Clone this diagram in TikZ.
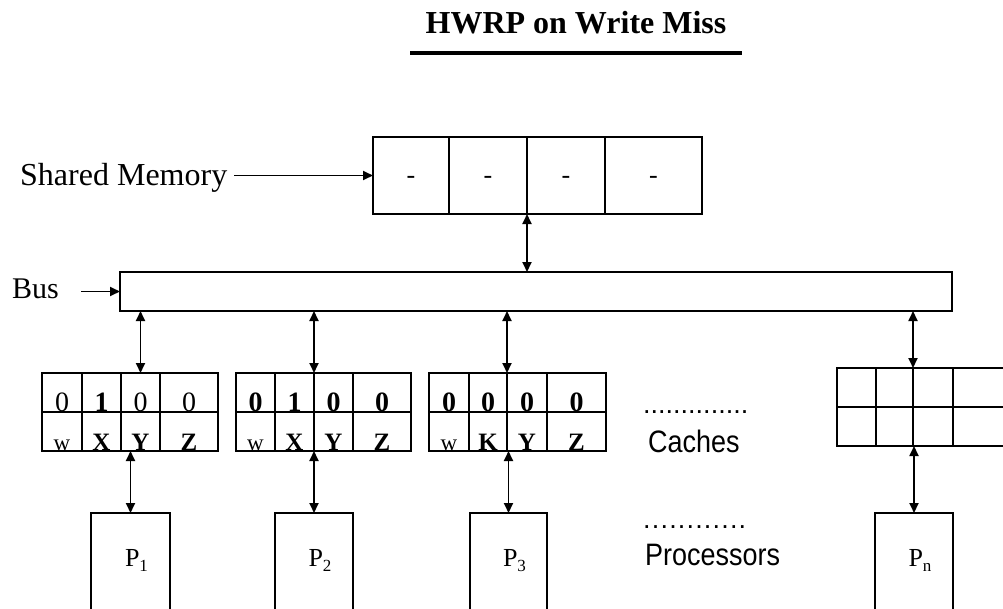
\documentclass[tikz,border=0pt]{standalone}
\usepackage{graphicx}
\usepackage{fontspec}
\setmainfont{Liberation Serif}
\newfontfamily\sansf{Liberation Sans}
\usetikzlibrary{arrows.meta}
\newcommand\fs[1]{\fontsize{#1}{#1}\selectfont}
\newcommand\psub[1]{\raisebox{-5pt}{\fs{17}#1}}
\newcommand\dg{\fs{28}}
\newcommand\lt{\fs{25}}
\newcommand\dsh{\raisebox{-8pt}[0pt][0pt]{-}}
% cache id, column, x-left, width, y-top, row height, top text, bottom text
\newcommand\cachecol[8]{%
  \node[cellbox, minimum width=#4pt, minimum height=#6pt] (c#1#2t) at (#3,#5) {};
  \node[cellbox, minimum width=#4pt, minimum height=#6pt] (c#1#2b) at (#3,#5+#6) {};
  \node[celltext] (t#1#2t) at ([yshift=0.5pt]c#1#2t.south) {#7};
  \node[celltext] (t#1#2b) at ([yshift=0.5pt]c#1#2b.south) {#8};
}
\begin{document}
\begin{tikzpicture}[x=1pt,y=-1pt,
  lw/.style={line width=1.8pt},
  cellbox/.style={draw, lw, inner sep=0pt, outer sep=0pt, anchor=north west},
  celltext/.style={inner sep=0pt, anchor=base},
  conn/.style={lw, {Triangle[length=10pt,width=9pt]}-{Triangle[length=10pt,width=9pt]}},
  pointer/.style={lw, -{Triangle[length=10pt,width=9pt]}},
  lbl/.style={inner sep=0pt, anchor=base west},
  sanslbl/.style={inner sep=0pt, anchor=base west, font=\sansf\fs{31}},
  dots/.style={inner sep=0pt, anchor=base west, font=\sansf\fs{27}},
  proc/.style={draw, lw, inner sep=0pt, outer sep=0pt, anchor=north west, minimum height=140pt},
  plabel/.style={inner sep=0pt, anchor=base, font=\fs{26}}
]
\useasboundingbox (0,0) rectangle (1003,608);
\fill[white] (0,0) rectangle (1003,608);

% title
\node[inner sep=0pt, anchor=base, font=\bfseries\fs{32}] (title) at (576,33) {HWRP on Write Miss};
\draw[line width=4pt] ([xshift=-15pt,yshift=-20pt]title.base west) -- ([xshift=15pt,yshift=-20pt]title.base east);

% shared memory
\node[cellbox, minimum width=76pt, minimum height=77pt, font=\fs{26}] (m1) at (373,137) {\dsh};
\node[cellbox, minimum width=78pt, minimum height=77pt, font=\fs{26}] (m2) at (449,137) {\dsh};
\node[cellbox, minimum width=78pt, minimum height=77pt, font=\fs{26}] (m3) at (527,137) {\dsh};
\node[cellbox, minimum width=97pt, minimum height=77pt, font=\fs{26}] (m4) at (605,137) {\dsh};
\node[lbl, font=\fs{32}] (smlabel) at (20,185) {Shared Memory};
\draw[pointer, shorten <=7pt] (smlabel.east |- m1.west) -- (m1.west);

% bus
\node[cellbox, minimum width=832pt, minimum height=39pt] (bus) at (120,272) {};
\node[lbl, font=\fs{30}] (buslabel) at (12,298) {Bus};
\draw[pointer, shorten <=22pt] (buslabel.east |- bus.west) -- (bus.west);
\draw[conn] (m2.south east) -- (bus.north -| m2.south east);

% caches
\cachecol{1}{1}{42}{40}{373}{39}{\dg 0}{\fs{23}w}
\cachecol{1}{2}{82}{39}{373}{39}{\dg\bfseries 1}{\lt\bfseries X}
\cachecol{1}{3}{121}{39}{373}{39}{\dg 0}{\lt\bfseries Y}
\cachecol{1}{4}{160}{58}{373}{39}{\dg 0}{\lt\bfseries Z}

\cachecol{2}{1}{236}{39}{373}{39}{\dg\bfseries 0}{\fs{23}w}
\cachecol{2}{2}{275}{39}{373}{39}{\dg\bfseries 1}{\lt\bfseries X}
\cachecol{2}{3}{314}{39}{373}{39}{\dg\bfseries 0}{\lt\bfseries Y}
\cachecol{2}{4}{353}{58}{373}{39}{\dg\bfseries 0}{\lt\bfseries Z}

\cachecol{3}{1}{429}{40}{373}{39}{\dg\bfseries 0}{\fs{23}w}
\cachecol{3}{2}{469}{38}{373}{39}{\dg\bfseries 0}{\lt\bfseries K}
\cachecol{3}{3}{507}{40}{373}{39}{\dg\bfseries 0}{\lt\bfseries Y}
\cachecol{3}{4}{547}{59}{373}{39}{\dg\bfseries 0}{\lt\bfseries Z}

\cachecol{n}{1}{837}{39}{368}{39}{}{}
\cachecol{n}{2}{876}{37}{368}{39}{}{}
\cachecol{n}{3}{913}{40}{368}{39}{}{}
\cachecol{n}{4}{953}{59}{368}{39}{}{}

\draw[conn] (bus.south -| c13t.north) -- (c13t.north);
\draw[conn] (bus.south -| c23t.north west) -- (c23t.north west);
\draw[conn] (bus.south -| c33t.north west) -- (c33t.north west);
\draw[conn] (bus.south -| cn3t.north west) -- (cn3t.north west);

\node[dots] (cdots) at (643,413) {\makebox[105pt]{.\hfill.\hfill.\hfill.\hfill.\hfill.\hfill.\hfill.\hfill.\hfill.\hfill.\hfill.\hfill.\hfill.}};
\node[sanslbl] (cacheslabel) at (648,452) {\scalebox{0.87}[1]{Caches}};

% processors
\node[proc, minimum width=79pt] (p1) at (91,513) {};
\node[proc, minimum width=78pt] (p2) at (275,513) {};
\node[proc, minimum width=77pt] (p3) at (470,513) {};
\node[proc, minimum width=78pt] (pn) at (875,513) {};
\node[plabel] (p1l) at ([xshift=6pt,yshift=-53pt]p1.north) {P\psub{1}};
\node[plabel] (p2l) at ([xshift=6pt,yshift=-53pt]p2.north) {P\psub{2}};
\node[plabel] (p3l) at ([xshift=6pt,yshift=-53pt]p3.north) {P\psub{3}};
\node[plabel] (pnl) at ([xshift=6pt,yshift=-53pt]pn.north) {P\psub{n}};

\draw[conn] (p1.north) -- (p1.north |- c11b.south);
\draw[conn] (p2.north) -- (p2.north |- c21b.south);
\draw[conn] (p3.north) -- (p3.north |- c31b.south);
\draw[conn] (pn.north) -- (pn.north |- cn1b.south);

\node[dots] (pdots) at (643,528) {\makebox[103pt]{.\hfill.\hfill.\hfill.\hfill.\hfill.\hfill.\hfill.\hfill.\hfill.\hfill.\hfill.}};
\node[sanslbl] (proclabel) at (645,565) {\scalebox{0.87}[1]{Processors}};
\end{tikzpicture}
\end{document}
